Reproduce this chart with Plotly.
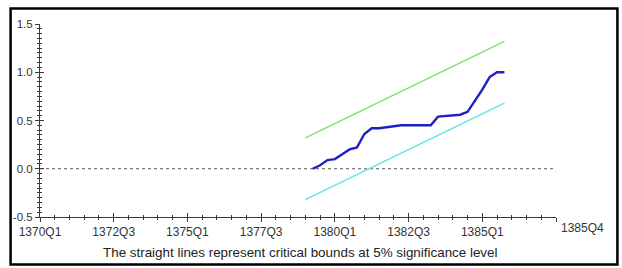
import plotly.graph_objects as go

# ---- data ----
first_period = "1370Q1"
axis_end_period = "1387Q3"          # right end of the horizontal axis
tick_periods = ["1370Q1", "1372Q3", "1375Q1", "1377Q3", "1380Q1", "1382Q3", "1385Q1"]
end_label = "1385Q4"

cusumsq_periods = ["1379Q2", "1379Q3", "1379Q4", "1380Q1", "1380Q2", "1380Q3", "1380Q4",
                   "1381Q1", "1381Q2", "1381Q3", "1381Q4", "1382Q1", "1382Q2", "1382Q3",
                   "1382Q4", "1383Q1", "1383Q2", "1383Q3", "1383Q4", "1384Q1", "1384Q2",
                   "1384Q3", "1384Q4", "1385Q1", "1385Q2", "1385Q3", "1385Q4"]
cusumsq_values = [0.00, 0.036, 0.09, 0.10, 0.15, 0.20, 0.22, 0.36, 0.42, 0.42, 0.43, 0.44,
                  0.45, 0.45, 0.45, 0.45, 0.45, 0.54, 0.545, 0.55, 0.56, 0.59, 0.70, 0.82,
                  0.95, 1.00, 1.00]

bound_periods = ["1379Q1", "1385Q4"]
upper_bound = [0.32, 1.32]
lower_bound = [-0.32, 0.68]

zero_periods = ["1370Q1", "1387Q3"]
zero_values = [0.0, 0.0]

y_ticks = [-0.5, 0.0, 0.5, 1.0, 1.5]
caption = "The straight lines represent critical bounds at 5% significance level"


def q_index(p):
    y0, q0 = int(first_period[:4]), int(first_period[-1])
    y, q = int(p[:4]), int(p[-1])
    return (y - y0) * 4 + (q - q0)


FONT = "Arial, Liberation Sans, sans-serif"
AX = "#3a3a3a"

fig = go.Figure()
fig.add_trace(go.Scatter(x=[q_index(p) for p in zero_periods], y=zero_values, mode="lines",
                         line=dict(color="#555555", width=1.2, dash="dot"),
                         hoverinfo="skip", showlegend=False))
fig.add_trace(go.Scatter(x=[q_index(p) for p in bound_periods], y=upper_bound, mode="lines",
                         line=dict(color="#7fe070", width=1.6), showlegend=False))
fig.add_trace(go.Scatter(x=[q_index(p) for p in bound_periods], y=lower_bound, mode="lines",
                         line=dict(color="#66e4ea", width=1.6), showlegend=False))
fig.add_trace(go.Scatter(x=[q_index(p) for p in cusumsq_periods], y=cusumsq_values, mode="lines",
                         line=dict(color="#1f1fc4", width=2.4), showlegend=False))

xr = [0, q_index(axis_end_period)]
yr = [-0.5, 1.5]
xt = [q_index(p) for p in tick_periods] + [q_index(axis_end_period)]
xl = tick_periods + [""]

fig.update_layout(
    width=622, height=268,
    margin=dict(l=40, r=66, t=24, b=51),
    paper_bgcolor="white", plot_bgcolor="white",
    font=dict(family=FONT, size=11, color="#333333"),
    xaxis=dict(range=xr, tickmode="array", tickvals=xt, ticktext=xl,
               showgrid=False, zeroline=False, showline=True, linecolor=AX, linewidth=1,
               ticks="outside", ticklen=4, tickcolor=AX, tickwidth=1,
               minor=dict(tickmode="linear", tick0=0, dtick=2, ticks="outside",
                          ticklen=2, tickcolor=AX, showgrid=False),
               tickfont=dict(size=12, color="#333333")),
    xaxis2=dict(range=xr, overlaying="x", anchor="y", side="bottom",
                tickmode="array", tickvals=xt, showticklabels=False,
                showgrid=False, zeroline=False, showline=False,
                ticks="inside", ticklen=4, tickcolor=AX, tickwidth=1,
                minor=dict(tickmode="linear", tick0=0, dtick=2, ticks="inside",
                           ticklen=2, tickcolor=AX, showgrid=False)),
    yaxis=dict(range=yr, tickmode="array", tickvals=y_ticks,
               ticktext=["-0.5", "0.0", "0.5", "1.0", "1.5"],
               showgrid=False, zeroline=False, showline=True, linecolor=AX, linewidth=1,
               ticks="outside", ticklen=4, tickcolor=AX, tickwidth=1,
               minor=dict(tickmode="linear", tick0=-0.5, dtick=0.05, ticks="outside",
                          ticklen=2, tickcolor=AX, showgrid=False),
               tickfont=dict(size=11.5, color="#333333")),
    yaxis2=dict(range=yr, overlaying="y", anchor="x", side="left",
                tickmode="array", tickvals=y_ticks, showticklabels=False,
                showgrid=False, zeroline=False, showline=False,
                ticks="inside", ticklen=4, tickcolor=AX, tickwidth=1,
                minor=dict(tickmode="linear", tick0=-0.5, dtick=0.05, ticks="inside",
                           ticklen=2, tickcolor=AX, showgrid=False)),
    shapes=[dict(type="rect", xref="paper", yref="paper",
                 x0=-0.057, x1=1.119, y0=-0.246, y1=1.08,
                 line=dict(color="black", width=2.5))],
    annotations=[
        dict(text=end_label, xref="paper", yref="paper", x=1.052, y=-0.057,
             xanchor="center", yanchor="middle", showarrow=False,
             font=dict(size=12, color="#333333")),
        dict(text=caption, xref="paper", yref="paper", x=0.504, y=-0.183,
             xanchor="center", yanchor="middle", showarrow=False,
             font=dict(size=13.4, color="#222222")),
    ],
)
# dummy invisible trace so overlay axes are drawn
fig.add_trace(go.Scatter(x=[None], y=[None], xaxis="x2", yaxis="y2", showlegend=False,
                         hoverinfo="skip"))

fig.write_html("out.html", config={"displayModeBar": False},
               post_script="document.body.style.margin='0';document.body.style.overflow='hidden';")
